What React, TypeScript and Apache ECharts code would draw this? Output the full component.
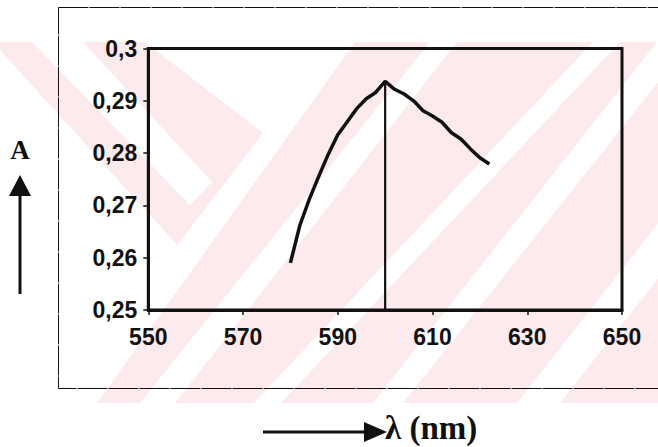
import React, { useEffect, useRef } from "react";
import * as echarts from "echarts";

// Wavelength (nm) and absorbance
const wavelengths = [580, 582, 584, 586, 588, 590, 592, 594, 596, 598, 600, 602, 604, 606, 608, 610, 612, 614, 616, 618, 620, 622];
const absorbance = [0.259, 0.2662, 0.2712, 0.2756, 0.2798, 0.2835, 0.286, 0.2885, 0.2904, 0.2916, 0.2937, 0.2922, 0.2913, 0.29, 0.2881, 0.2871, 0.2859, 0.2839, 0.2827, 0.2808, 0.2791, 0.2779];
const peakWavelength = [600, 600];
const peakLineValues = [0.2937, 0.25];

const xMin = 550;
const xMax = 650;
const xStep = 20;
const yMin = 0.25;
const yMax = 0.3;
const yStep = 0.01;

const yTitle = "A";
const xTitle = "λ (nm)";

const PINK = "#fdeaed";

export default function App() {
  const ref = useRef<HTMLDivElement>(null);

  useEffect(() => {
    if (!ref.current) return;
    const chart = echarts.init(ref.current, undefined, { renderer: "svg" });

    const curve = wavelengths.map((w, i) => [w, absorbance[i]]);
    const peak = peakWavelength.map((w, i) => [w, peakLineValues[i]]);

    const white = (points: number[][]) => ({
      type: "polygon",
      shape: { points },
      style: { fill: "#ffffff" },
      z: -9,
      silent: true,
    });

    const labelFont = {
      fontFamily: "Liberation Sans, Arial, sans-serif",
      fontWeight: "bold" as const,
      fontSize: 23,
      color: "#111",
    };

    chart.setOption({
      animation: false,
      backgroundColor: "#ffffff",
      grid: {
        left: 148.3,
        right: 658 - 622,
        top: 48.5,
        bottom: 447 - 310,
        show: true,
        borderColor: "#111",
        borderWidth: 3,
        backgroundColor: "transparent",
      },
      xAxis: {
        type: "value",
        min: xMin,
        max: xMax,
        interval: xStep,
        splitLine: { show: false },
        axisLine: { show: true, lineStyle: { color: "#111", width: 3 } },
        axisTick: { show: true, length: 5, lineStyle: { color: "#111", width: 1.5 } },
        axisLabel: { ...labelFont, margin: 15 },
      },
      yAxis: {
        type: "value",
        min: yMin,
        max: yMax,
        interval: yStep,
        splitLine: { show: false },
        axisLine: { show: true, lineStyle: { color: "#111", width: 3 } },
        axisTick: { show: true, length: 5, lineStyle: { color: "#111", width: 1.5 } },
        axisLabel: {
          ...labelFont,
          margin: 11,
          formatter: (v: number) => String(Math.round(v * 100) / 100).replace(".", ","),
        },
      },
      series: [
        {
          type: "line",
          data: curve,
          symbol: "none",
          lineStyle: { color: "#111", width: 3.5 },
          z: 3,
        },
        {
          type: "line",
          data: peak,
          symbol: "none",
          lineStyle: { color: "#111", width: 2.2 },
          z: 3,
        },
      ],
      graphic: [
        // faint watermark
        { type: "rect", shape: { x: 0, y: 42, width: 658, height: 361 }, style: { fill: PINK }, z: -10, silent: true },
        white([[0, 50], [179, 247], [57, 403], [0, 403]]),
        white([[32, 42], [83, 42], [212, 182], [190, 205]]),
        white([[145, 42], [355, 42], [97, 403], [57, 403], [263, 133]]),
        white([[140, 403], [175, 403], [457, 42], [430, 42]]),
        white([[254, 403], [281, 403], [620, 42], [593, 42]]),
        white([[373, 403], [403, 403], [690, 42], [657, 42]]),
        white([[517, 403], [560, 403], [844, 42], [801, 42]]),
        // outer frame
        {
          type: "rect",
          shape: { x: 58.5, y: 7.5, width: 640, height: 381 },
          style: { fill: "none", stroke: "#111", lineWidth: 1, lineDash: [30, 1] },
          z: 5,
          silent: true,
        },
        // y title and arrow
        {
          type: "text",
          style: {
            text: yTitle,
            x: 20,
            y: 150,
            align: "center",
            verticalAlign: "middle",
            font: 'bold 27px "Liberation Serif", "Times New Roman", serif',
            fill: "#111",
          },
          z: 10,
        },
        { type: "polygon", shape: { points: [[9, 196], [31, 196], [20, 175]] }, style: { fill: "#111" }, z: 10 },
        { type: "line", shape: { x1: 20, y1: 194, x2: 20, y2: 294 }, style: { stroke: "#111", lineWidth: 3 }, z: 10 },
        // x title and arrow
        { type: "line", shape: { x1: 263, y1: 432, x2: 368, y2: 432 }, style: { stroke: "#111", lineWidth: 3 }, z: 10 },
        { type: "polygon", shape: { points: [[364, 422], [364, 442], [387, 432]] }, style: { fill: "#111" }, z: 10 },
        {
          type: "text",
          style: {
            text: xTitle,
            x: 385,
            y: 428,
            align: "left",
            verticalAlign: "middle",
            font: 'bold 33px "Liberation Serif", "Times New Roman", serif',
            fill: "#111",
          },
          z: 10,
        },
      ],
    });

    return () => chart.dispose();
  }, []);

  return (
    <div
      ref={ref}
      style={{ position: "fixed", left: 0, top: 0, width: 658, height: 447 }}
    />
  );
}
